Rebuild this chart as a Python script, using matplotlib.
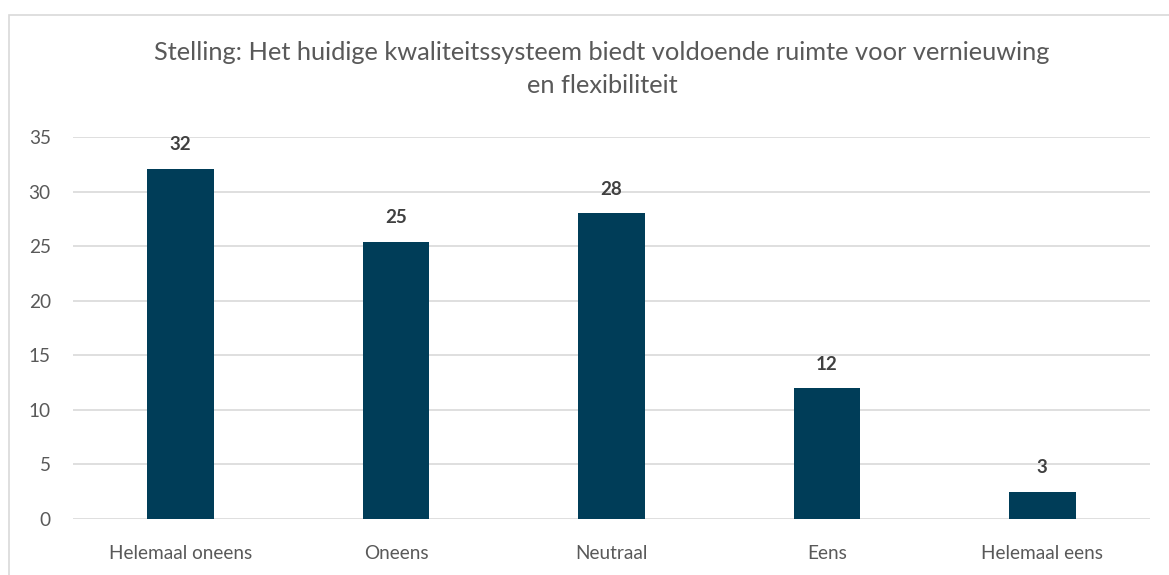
import matplotlib.pyplot as plt
from matplotlib.patches import Rectangle

plt.rcParams["font.family"] = ["Lato", "DejaVu Sans"]

categories = ["Helemaal oneens", "Oneens", "Neutraal", "Eens", "Helemaal eens"]
values = [32.1, 25.4, 28.0, 12.0, 2.5]
yticks = [0, 5, 10, 15, 20, 25, 30, 35]

title = "Stelling: Het huidige kwaliteitssysteem biedt voldoende ruimte voor vernieuwing\nen flexibiliteit"

fig = plt.figure(figsize=(11.69, 5.75), dpi=100)
fig.patch.set_facecolor("white")

# chart frame (extends past right / bottom edge like the screenshot)
fig.patches.append(
    Rectangle((8.5 / 1169, -0.05), 1.1, 1 - 15 / 575 + 0.05,
              transform=fig.transFigure, fill=False, edgecolor="#D9D9D9", linewidth=1.2)
)

ax = fig.add_axes([73 / 1169, 1 - 519 / 575, (1150 - 73) / 1169, (519 - 137) / 575])

x = range(len(categories))
bars = ax.bar(x, values, width=0.31, color="#003D58", zorder=3)

ax.set_xlim(-0.5, len(categories) - 0.5)
ax.set_ylim(0, 35)
ax.set_yticks(yticks)
ax.set_xticks(list(x))
ax.set_xticklabels(categories)

for s in ["top", "right", "left", "bottom"]:
    ax.spines[s].set_visible(False)
ax.yaxis.grid(True, color="#D9D9D9", linewidth=1.2, zorder=0)
ax.set_axisbelow(True)
ax.tick_params(length=0, labelsize=13.7, colors="#595959")
ax.tick_params(axis="x", pad=19)
ax.tick_params(axis="y", pad=16)

for bar, v in zip(bars, values):
    ax.text(bar.get_x() + bar.get_width() / 2, v + 1.4, "{}".format(int(v + 0.5)),
            ha="center", va="bottom", fontsize=13.5, fontweight="bold", color="#404040")

fig.text(602 / 1169, 1 - 69 / 575, title, ha="center", va="center", fontsize=18.3,
         color="#595959", linespacing=1.5)

fig.savefig("out.png", dpi=100)
